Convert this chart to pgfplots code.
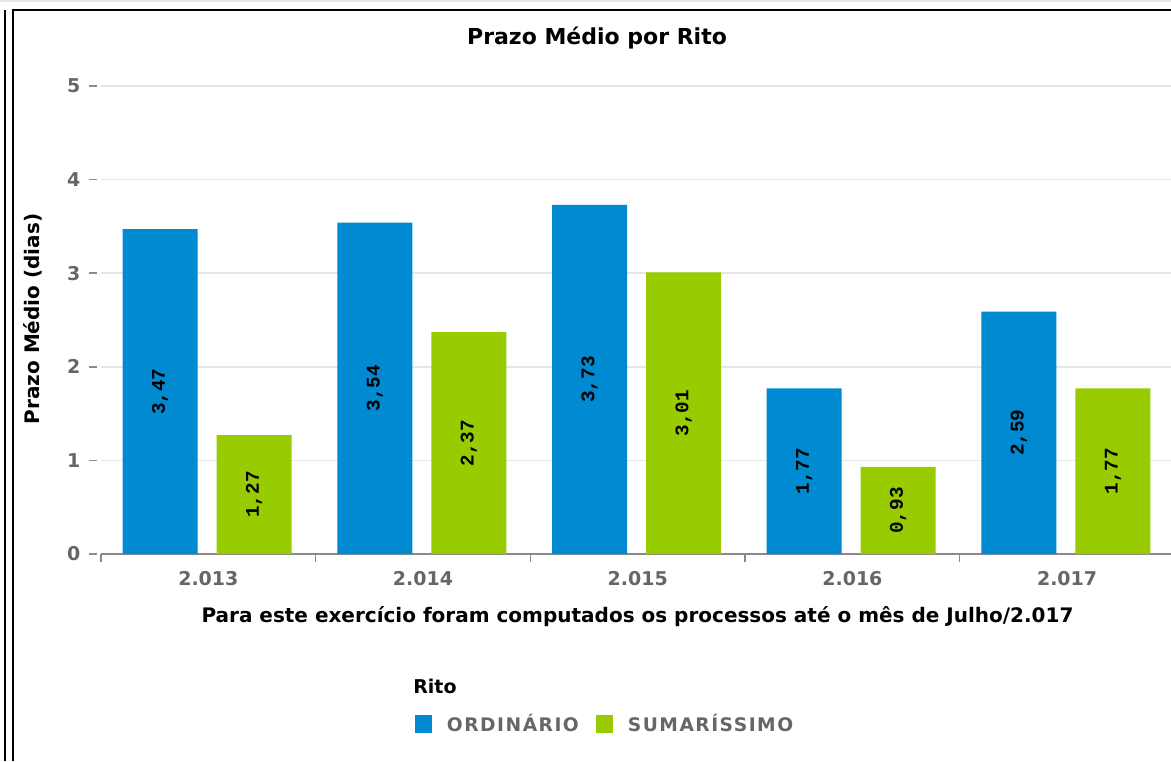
\documentclass[border=0pt]{standalone}
\usepackage{pgfplots}
\pgfplotsset{compat=1.18}
\usepackage{pgfplotstable}
\usepackage{fontspec}
\setmainfont{DejaVu Sans}
\newfontfamily\monofont{Liberation Mono}
\newfontfamily\legfont[LetterSpace=8]{DejaVu Sans}
\definecolor{cblue}{HTML}{008AD2}
\definecolor{cgreen}{HTML}{99CC00}
\definecolor{tickgray}{HTML}{666666}
\definecolor{axgray}{HTML}{8A8A8A}
\definecolor{gridgray}{HTML}{E6E6E6}
\pgfplotstableread{
x y label
0 3.47 3,47
1 3.54 3,54
2 3.73 3,73
3 1.77 1,77
4 2.59 2,59
}\ordinario
\pgfplotstableread{
x y label
0 1.27 1,27
1 2.37 2,37
2 3.01 3,01
3 0.93 0,93
4 1.77 1,77
}\sumarissimo
\begin{document}
\begin{tikzpicture}
\useasboundingbox (0,0) rectangle (878.25pt,570.75pt);
\draw[gridgray, line width=1.5pt] (0,570pt) -- (878.25pt,570pt);
\draw[black, line width=1.5pt] (3.75pt,0) -- (3.75pt,563.25pt);
\draw[black, line width=1.5pt] (9.75pt,0) -- (9.75pt,563.25pt) -- (878.25pt,563.25pt);
\begin{axis}[
  at={(75.75pt,155.25pt)}, anchor=south west,
  scale only axis, width=802.5pt, height=351pt,
  xmin=-0.5, xmax=4.484, ymin=0, ymax=5,
  ybar, bar width=56.25pt,
  axis lines*=left,
  axis line style={-},
  y axis line style={draw=none},
  x axis line style={draw=axgray, line width=1.5pt},
  xtick={-0.5,0.5,1.5,2.5,3.5},
  xticklabels={2.013,2.014,2.015,2.016,2.017},
  xticklabel style={xshift=80.5pt, yshift=-3.75pt, font=\bfseries\fontsize{14.25pt}{16pt}\selectfont, text=tickgray},
  ytick={0,1,2,3,4,5},
  yticklabel style={xshift=-6pt, font=\bfseries\fontsize{14.25pt}{16pt}\selectfont, text=tickgray, /pgf/number format/assume math mode=true},
  tick align=outside,
  major tick length=6pt,
  xtick style={draw=axgray, line width=1.1pt},
  ytick style={draw=axgray, line width=1.1pt, xshift=-3pt},
  ymajorgrids, major grid style={gridgray, line width=1.2pt},
  title={Prazo Médio por Rito},
  title style={at={(axis description cs:0.4636,1.0855)}, anchor=center, font=\bfseries\fontsize{16.5pt}{18pt}\selectfont},
  xlabel={Para este exercício foram computados os processos até o mês de Julho/2.017},
  xlabel style={at={(axis description cs:0.5014,-0.1346)}, anchor=center, font=\bfseries\fontsize{15pt}{18pt}\selectfont},
  ylabel={Prazo Médio (dias)},
  ylabel style={at={(axis description cs:-0.0636,0.502)}, anchor=center, font=\bfseries\fontsize{15pt}{17pt}\selectfont},
  point meta=explicit symbolic,
  nodes near coords,
  visualization depends on=rawy \as \rawy,
  every node near coord/.append style={anchor=center, yshift={-\rawy*35.1pt}, rotate=90, font=\monofont\bfseries\fontsize{14.5pt}{16pt}\selectfont, text=black},
  legend columns=2,
  legend style={at={(axis description cs:0.2935,-0.3632)}, anchor=west, draw=none, fill=none, inner sep=0pt,
    font=\legfont\bfseries\fontsize{14pt}{16pt}\selectfont, text=tickgray,
    nodes={inner xsep=0pt},
    /tikz/every odd column/.append style={column sep=11pt},
    /tikz/every even column/.append style={column sep=13pt}},
  legend image code/.code={\fill[#1] (0pt,-6.4pt) rectangle (12.75pt,6.4pt);},
]
\addplot[fill=cblue, draw=none, bar shift=-36.15pt] table[x=x, y=y, meta=label] {\ordinario};
\addplot[fill=cgreen, draw=none, bar shift=34.35pt] table[x=x, y=y, meta=label] {\sumarissimo};
\legend{ORDINÁRIO, SUMARÍSSIMO}
\end{axis}
\node[anchor=west, font=\bfseries\fontsize{14.25pt}{16pt}\selectfont, inner sep=0pt] at (309.75pt,56.25pt) {Rito};
\end{tikzpicture}
\end{document}
